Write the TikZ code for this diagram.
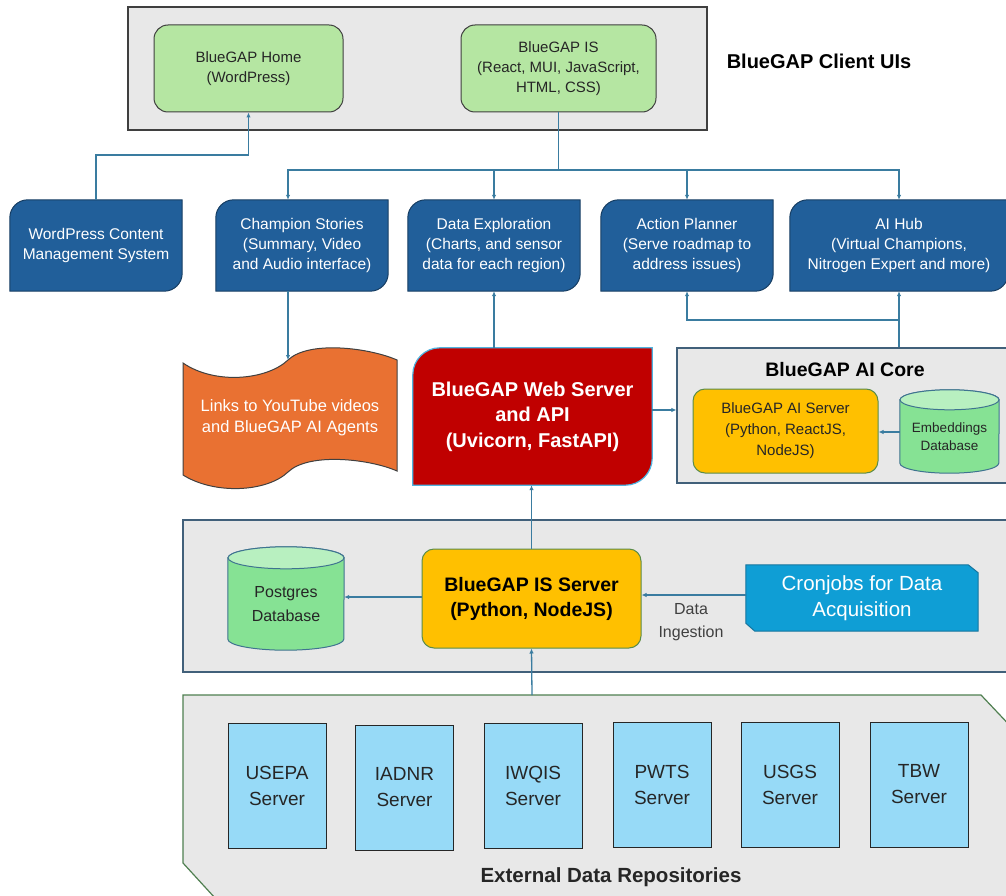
\documentclass[tikz,border=0pt]{standalone}
\usepackage{fontspec}
\setmainfont{Liberation Sans}
\usetikzlibrary{arrows.meta}
\pgfdeclarelayer{back}
\pgfdeclarelayer{mid}
\pgfsetlayers{back,mid,main}
\definecolor{panelgray}{HTML}{E8E8E8}
\definecolor{uiborder}{HTML}{3F3F3F}
\definecolor{secborder}{HTML}{41607A}
\definecolor{extborder}{HTML}{4F7F50}
\definecolor{greenfill}{HTML}{B5E6A2}
\definecolor{bluefill}{HTML}{215F9A}
\definecolor{blueborder}{HTML}{173E63}
\definecolor{redfill}{HTML}{C00000}
\definecolor{redborder}{HTML}{4FB3E0}
\definecolor{orangefill}{HTML}{E97132}
\definecolor{yellowfill}{HTML}{FFC000}
\definecolor{yellowborder}{HTML}{5A8C4A}
\definecolor{dbbody}{HTML}{86E294}
\definecolor{dbtop}{HTML}{B8F0C0}
\definecolor{dbborder}{HTML}{3F7390}
\definecolor{cronfill}{HTML}{0F9ED5}
\definecolor{cronborder}{HTML}{16759E}
\definecolor{serverfill}{HTML}{97DAF7}
\definecolor{connblue}{HTML}{3A7CA0}
\definecolor{darktext}{HTML}{262626}
\newcommand\fsz[2]{\fontsize{#1}{#2}\selectfont}
\newcommand\diagshape[3]{%
\begin{pgfonlayer}{mid}
\path[#3] ([yshift=-#2]#1.north west) arc[start angle=180,end angle=90,radius=#2]
  -- (#1.north east) -- ([yshift=#2]#1.south east) arc[start angle=0,end angle=-90,radius=#2]
  -- (#1.south west) -- cycle;
\end{pgfonlayer}}
\newcommand\cylshape[3]{% name, y radius, border color
\begin{pgfonlayer}{mid}
\path[fill=dbbody,draw=#3,line width=1pt] ([yshift=-#2]#1.north west) -- ([yshift=#2]#1.south west)
  arc[start angle=180,end angle=360,x radius=0.5*\pgfkeysvalueof{/tmp/w},y radius=#2]
  -- ([yshift=-#2]#1.north east)
  arc[start angle=0,end angle=180,x radius=0.5*\pgfkeysvalueof{/tmp/w},y radius=#2] -- cycle;
\path[fill=dbtop,draw=#3,line width=1pt] ([yshift=-#2]#1.north)
  ellipse[x radius=0.5*\pgfkeysvalueof{/tmp/w},y radius=#2];
\end{pgfonlayer}}
\begin{document}
\begin{tikzpicture}[x=1pt,y=-1pt,
  box/.style={shape=rectangle,inner sep=0pt,align=center},
  panel/.style={box,fill=panelgray,line width=1.2pt},
  greenbox/.style={box,fill=greenfill,draw=uiborder,line width=1pt,rounded corners=14pt,
     text=darktext,font=\fsz{15}{20}},
  bluebox/.style={box,minimum width=172pt,minimum height=91pt,text=white,font=\fsz{15.5}{20}},
  bluefillstyle/.style={fill=bluefill,draw=blueborder,line width=1pt},
  yellowbox/.style={box,fill=yellowfill,draw=yellowborder,line width=1pt,rounded corners=12pt,text=darktext},
  serverbox/.style={box,fill=serverfill,draw=black!85,line width=1pt,minimum width=98pt,
     minimum height=125pt,text=darktext,font=\fsz{19}{26}},
  conn/.style={draw=connblue,line width=1.3pt},
  arrow/.style={conn,-{Latex[length=5pt,width=4.5pt]}}]
\useasboundingbox (0,0) rectangle (1006,896);

% ---------- panels ----------
\begin{pgfonlayer}{back}
\node[panel,draw=uiborder,minimum width=579pt,minimum height=123pt] (uipanel) at (417.5,68.5) {};
\node[panel,draw=secborder,minimum width=335pt,minimum height=135pt] (aicore) at (844.5,415.5) {};
\node[panel,draw=secborder,minimum width=830pt,minimum height=152pt] (ispanel) at (598,596) {};
\path[fill=panelgray,draw=extborder,line width=1.2pt]
  (183,695) -- (981,695) -- (1016,732) -- (1016,910) -- (226,910) -- (183,863) -- cycle;
\end{pgfonlayer}
\coordinate (exttop) at (532,695);

% ---------- client UIs ----------
\node[greenbox,minimum width=189pt,minimum height=87pt] (home) at (248.5,68.5) {BlueGAP Home\\(WordPress)};
\node[greenbox,minimum width=195pt,minimum height=87pt] (isui) at (558.5,68.5) {BlueGAP IS\\(React, MUI, JavaScript,\\HTML, CSS)};
\node[box,font=\bfseries\fsz{20}{24},text=black] (uititle) at (819,61) {BlueGAP Client UIs};

% ---------- blue boxes ----------
\node[bluebox] (wp) at (96,245.5) {WordPress Content\\Management System};
\diagshape{wp}{18pt}{bluefillstyle}
\node[bluebox] (champ) at (302,245.5) {Champion Stories\\(Summary, Video\\and Audio interface)};
\diagshape{champ}{18pt}{bluefillstyle}
\node[bluebox] (dataexp) at (494,245.5) {Data Exploration\\(Charts, and sensor\\data for each region)};
\diagshape{dataexp}{18pt}{bluefillstyle}
\node[bluebox] (action) at (687,245.5) {Action Planner\\(Serve roadmap to\\address issues)};
\diagshape{action}{18pt}{bluefillstyle}
\node[bluebox,minimum width=218pt] (aihub) at (899,245.5) {AI Hub\\(Virtual Champions,\\Nitrogen Expert and more)};
\diagshape{aihub}{18pt}{bluefillstyle}

% ---------- document shape ----------
\begin{pgfonlayer}{mid}
\path[fill=orangefill,draw=black!75,line width=1pt]
  (183,363) .. controls (215,385) and (267,380) .. (288,360)
  .. controls (309,340) and (370,348) .. (397,360)
  -- (397,471) .. controls (370,459) and (309,452) .. (288,472)
  .. controls (267,492) and (215,495) .. (183,475) -- cycle;
\end{pgfonlayer}
\coordinate (doctop) at (288,360);
\node[box,text=white,font=\fsz{16.5}{21}] (doc) at (290,418) {Links to YouTube videos\\and BlueGAP AI Agents};

% ---------- web server ----------
\node[box,minimum width=239pt,minimum height=137pt,text=white,font=\bfseries\fsz{20}{25.5}] (web) at (532.5,416.5) {BlueGAP Web Server\\and API\\(Uvicorn, FastAPI)};
\diagshape{web}{27pt}{fill=redfill,draw=redborder,line width=1.2pt}

% ---------- AI core ----------
\node[box,font=\bfseries\fsz{19.5}{24},text=black] (aititle) at (845,370) {BlueGAP AI Core};
\node[yellowbox,minimum width=185pt,minimum height=84pt,font=\fsz{15}{21}] (aisrv) at (785.5,431) {BlueGAP AI Server\\(Python, ReactJS,\\NodeJS)};
\pgfkeyssetvalue{/tmp/w}{99pt}
\node[box,minimum width=99pt,minimum height=83pt,text=darktext,font=\fsz{13.5}{18}] (emb) at (949.5,431.5) {\\[2pt]Embeddings\\Database};
\cylshape{emb}{10pt}{dbborder}

% ---------- IS server row ----------
\node[yellowbox,minimum width=219pt,minimum height=99pt,text=black,font=\bfseries\fsz{19.5}{25}] (issrv) at (531.5,598.5) {BlueGAP IS Server\\(Python, NodeJS)};
\pgfkeyssetvalue{/tmp/w}{116pt}
\node[box,minimum width=116pt,minimum height=103pt,text=darktext,font=\fsz{16}{24}] (pg) at (286,598.5) {\\[-2pt]Postgres\\Database};
\cylshape{pg}{11pt}{dbborder}
\node[box,minimum width=232pt,minimum height=66pt,text=white,font=\fsz{20.5}{26}] (cron) at (862,598) {Cronjobs for Data\\Acquisition};
\begin{pgfonlayer}{mid}
\path[fill=cronfill,draw=cronborder,line width=1pt]
  (cron.north west) -- ([xshift=-10pt]cron.north east) -- ([yshift=-8pt]cron.north east)
  -- (cron.south east) -- ([xshift=9pt]cron.south west) -- ([yshift=8pt]cron.south west) -- cycle;
\end{pgfonlayer}
\node[box,text=black!75,font=\fsz{16}{23}] (ingest) at (691,622) {Data\\Ingestion};

% ---------- external servers ----------
\node[serverbox] (usepa) at (277,785.5) {USEPA\\Server};
\node[serverbox] (iadnr) at (404.5,787.5) {IADNR\\Server};
\node[serverbox] (iwqis) at (533,785.5) {IWQIS\\Server};
\node[serverbox] (pwts) at (662,784.5) {PWTS\\Server};
\node[serverbox] (usgs) at (790,784.5) {USGS\\Server};
\node[serverbox] (tbw) at (919,784.5) {TBW\\Server};
\node[box,font=\bfseries\fsz{20.5}{24},text=darktext] (exttitle) at (611,877) {External Data Repositories};

% ---------- connectors ----------
\coordinate (busA) at (0,155);
\coordinate (busB) at (0,170);
\draw[arrow] (wp.north) |- (home.south |- busA) -- (home.south);
\draw[conn] (isui.south) -- (isui.south |- busB);
\draw[arrow] (isui.south |- busB) -| ([xshift=-14pt]champ.north);
\draw[arrow] (isui.south |- busB) -| (aihub.north);
\draw[arrow] (dataexp.north |- busB) -- (dataexp.north);
\draw[arrow] (action.north |- busB) -- (action.north);
\draw[arrow] ([xshift=-14pt]champ.south) -- (doctop);
\draw[arrow] (web.north -| dataexp.south) -- (dataexp.south);
\coordinate (wy) at (0,410);
\draw[arrow] (web.east |- wy) -- (aicore.west |- wy);
\draw[arrow] (aicore.north -| aihub.south) -- (aihub.south);
\coordinate (apy) at (0,320);
\draw[arrow] (aihub.south |- apy) -| (action.south);
\coordinate (ey) at (0,432);
\draw[arrow] (emb.west |- ey) -- (aisrv.east |- ey);
\draw[arrow] (issrv.north) -- (web.south -| issrv.north);
\coordinate (py) at (0,597);
\draw[arrow] (issrv.west |- py) -- (pg.east |- py);
\coordinate (cy) at (0,595);
\draw[arrow] (cron.west |- cy) -- (issrv.east |- cy);
\draw[arrow] (exttop) -- (issrv.south);
\end{tikzpicture}
\end{document}
